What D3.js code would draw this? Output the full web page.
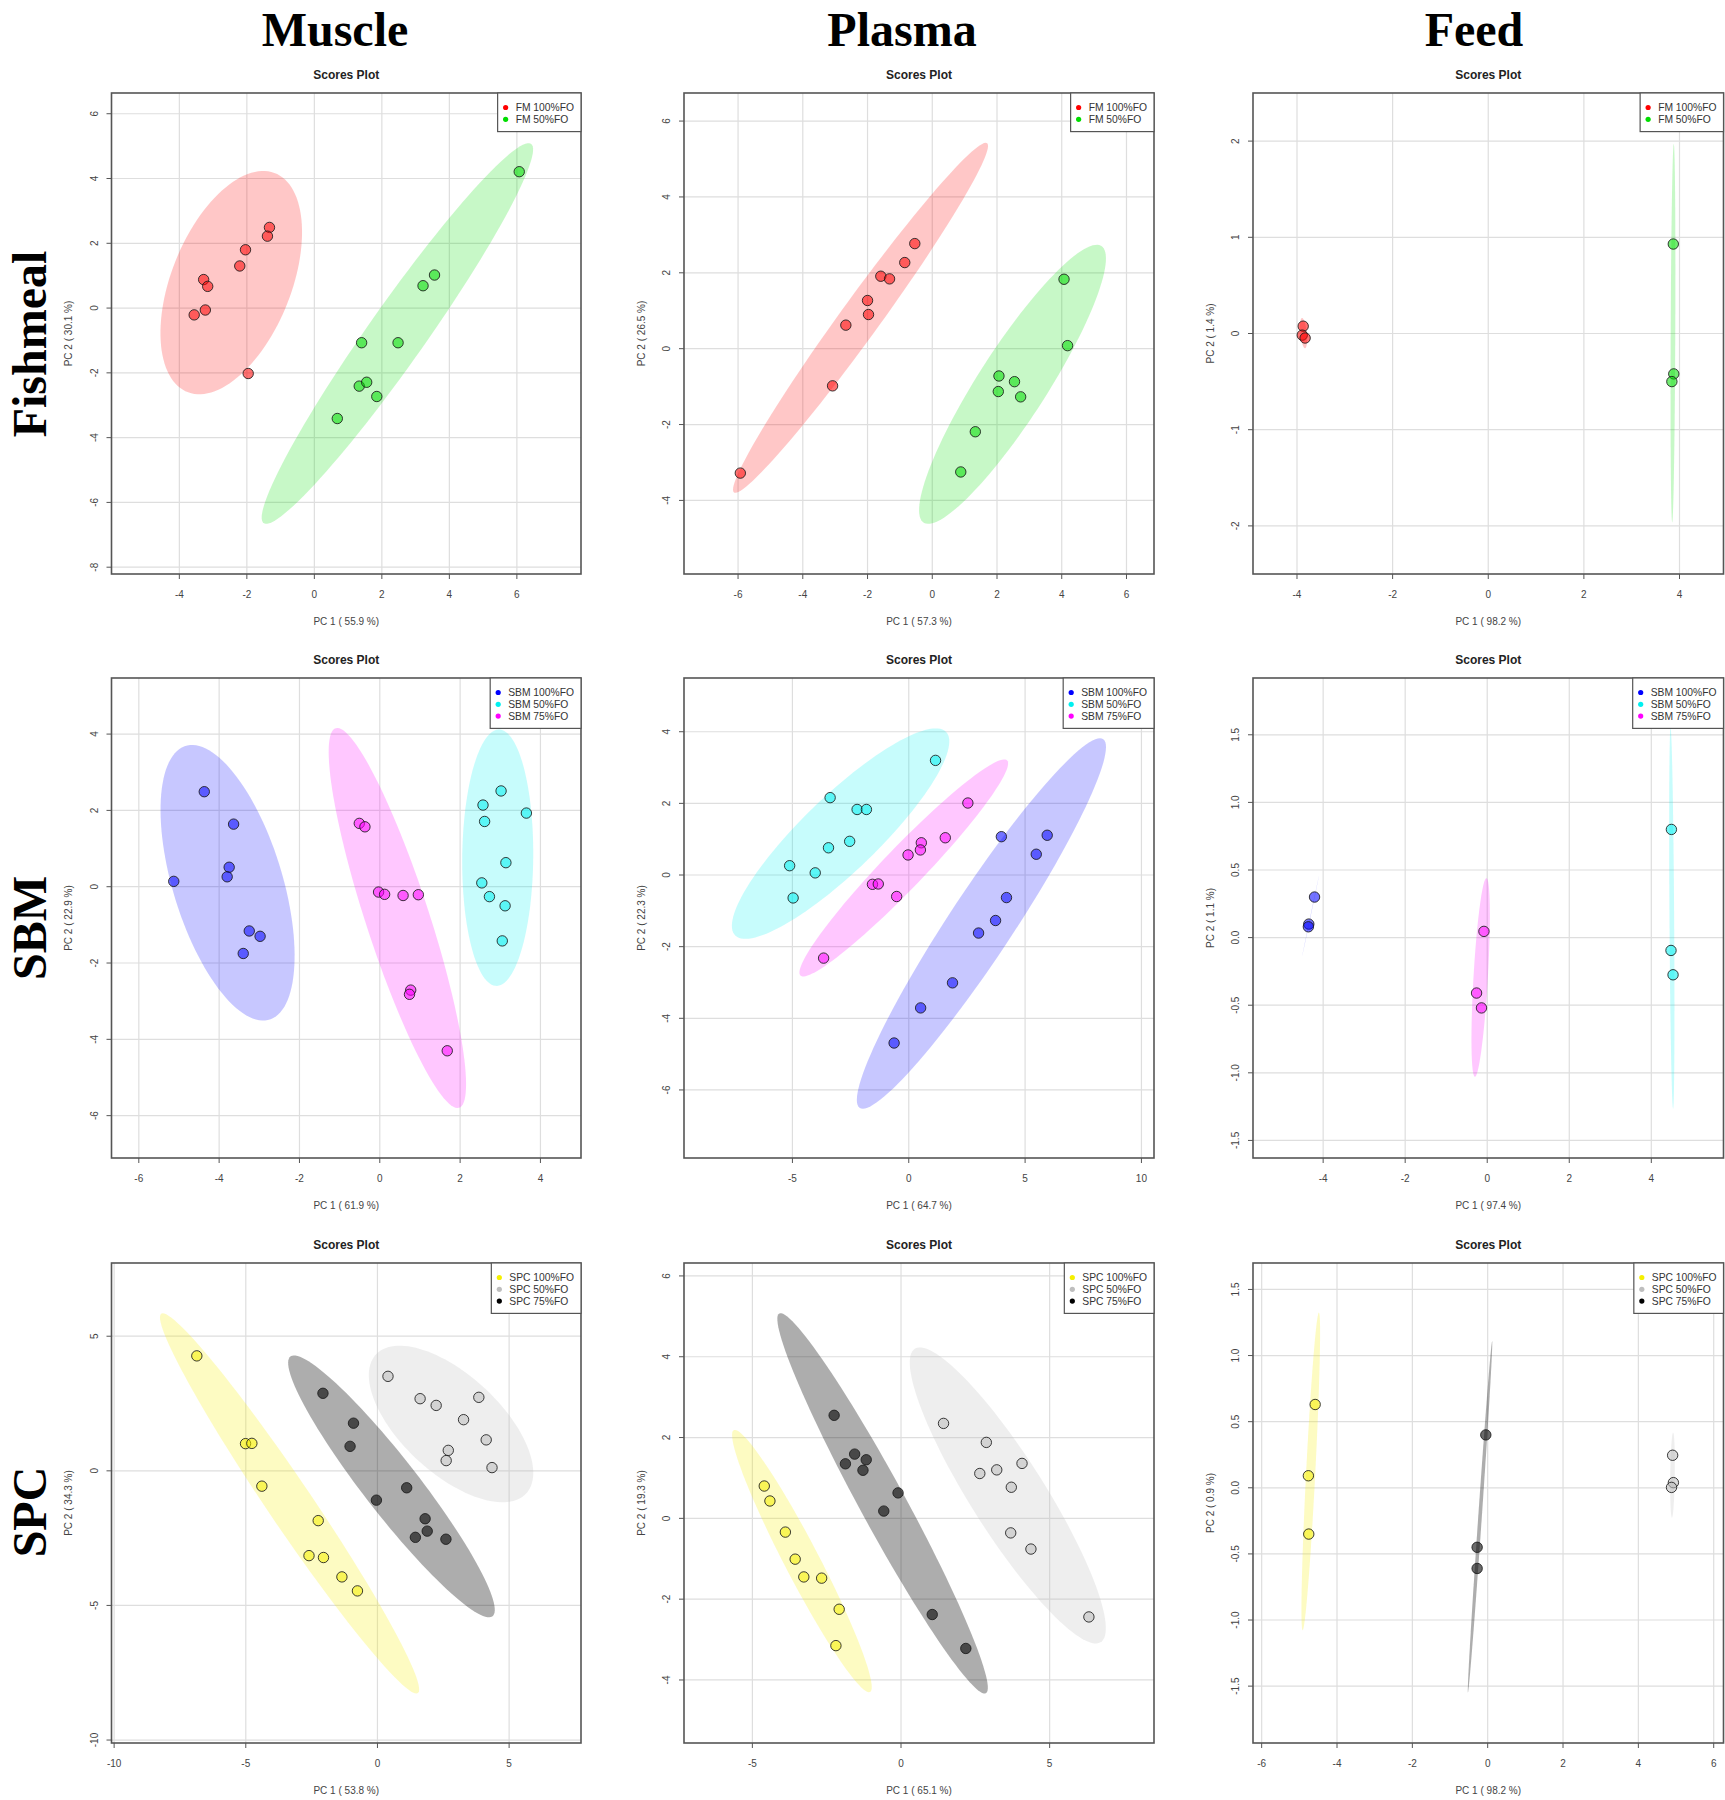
<!DOCTYPE html>
<html><head><meta charset="utf-8">
<script src="https://cdn.jsdelivr.net/npm/d3@7"></script>
<style>body{margin:0;background:#fff;} svg{display:block}</style>
</head><body>
<svg id="chart" width="1725" height="1800"></svg>
<script>
// ---------- DATA ----------
const columnTitles = ["Muscle", "Plasma", "Feed"];
const rowTitles = ["Fishmeal", "SBM", "SPC"];
const fmGroups = ["FM 100%FO", "FM 50%FO"];
const sbmGroups = ["SBM 100%FO", "SBM 50%FO", "SBM 75%FO"];
const spcGroups = ["SPC 100%FO", "SPC 50%FO", "SPC 75%FO"];

// Fishmeal
const muscleFM100 = [[-1.33,2.49],[-1.39,2.22],[-2.04,1.80],[-2.21,1.30],[-3.28,0.88],[-3.16,0.67],[-3.23,-0.06],[-3.56,-0.21],[-1.96,-2.02]];
const muscleFM50  = [[6.07,4.21],[3.56,1.02],[3.22,0.69],[1.40,-1.07],[2.48,-1.07],[1.33,-2.41],[1.55,-2.29],[1.85,-2.73],[0.68,-3.41]];
const plasmaFM100 = [[-0.54,2.77],[-0.85,2.27],[-1.59,1.91],[-1.32,1.84],[-2.00,1.27],[-1.97,0.90],[-2.67,0.62],[-3.08,-0.98],[-5.93,-3.28]];
const plasmaFM50  = [[4.07,1.83],[4.18,0.08],[2.06,-0.72],[2.54,-0.87],[2.04,-1.13],[2.73,-1.27],[1.33,-2.19],[0.88,-3.25]];
const feedFM100   = [[-3.87,0.076],[-3.89,-0.017],[-3.83,-0.047]];
const feedFM50    = [[3.87,0.93],[3.88,-0.42],[3.84,-0.50]];

// SBM
const muscleSBM100 = [[-4.37,2.49],[-3.64,1.64],[-3.75,0.51],[-3.80,0.26],[-5.13,0.14],[-3.25,-1.16],[-2.98,-1.30],[-3.40,-1.75]];
const muscleSBM50  = [[3.02,2.51],[2.57,2.14],[2.61,1.71],[3.65,1.93],[3.14,0.63],[2.54,0.10],[2.73,-0.26],[3.12,-0.50],[3.05,-1.42]];
const muscleSBM75  = [[-0.51,1.66],[-0.37,1.57],[-0.03,-0.14],[0.12,-0.20],[0.58,-0.23],[0.96,-0.21],[0.77,-2.71],[0.74,-2.82],[1.68,-4.30]];
const plasmaSBM100 = [[5.95,1.11],[3.98,1.07],[5.48,0.58],[4.20,-0.63],[3.73,-1.27],[3.00,-1.62],[1.88,-3.01],[0.51,-3.71],[-0.63,-4.69]];
const plasmaSBM50  = [[1.15,3.20],[-3.38,2.16],[-2.22,1.83],[-1.82,1.83],[-2.54,0.94],[-3.45,0.76],[-5.12,0.26],[-4.02,0.06],[-4.97,-0.64]];
const plasmaSBM75  = [[2.54,2.01],[1.57,1.04],[0.54,0.90],[0.50,0.70],[-0.03,0.56],[-1.56,-0.26],[-1.31,-0.25],[-0.52,-0.60],[-3.66,-2.32]];
const feedSBM100   = [[-4.21,0.30],[-4.35,0.10],[-4.36,0.08]];
const feedSBM50    = [[4.49,0.80],[4.48,-0.095],[4.53,-0.275]];
const feedSBM75    = [[-0.08,0.046],[-0.26,-0.41],[-0.14,-0.52]];

// SPC
const muscleSPC100 = [[-6.86,4.27],[-5.01,1.01],[-4.77,1.02],[-4.39,-0.57],[-2.25,-1.85],[-2.60,-3.15],[-2.05,-3.22],[-1.35,-3.94],[-0.76,-4.46]];
const muscleSPC50  = [[0.40,3.51],[1.62,2.68],[2.23,2.43],[3.85,2.73],[3.27,1.90],[4.13,1.15],[2.69,0.76],[2.61,0.38],[4.35,0.12]];
const muscleSPC75  = [[-2.07,2.88],[-0.91,1.77],[-1.04,0.91],[1.11,-0.63],[-0.04,-1.09],[1.81,-1.78],[1.89,-2.24],[1.44,-2.47],[2.60,-2.54]];
const plasmaSPC100 = [[-4.60,0.80],[-4.41,0.43],[-3.89,-0.34],[-3.56,-1.01],[-3.27,-1.45],[-2.67,-1.48],[-2.08,-2.25],[-2.19,-3.15]];
const plasmaSPC50  = [[1.43,2.35],[2.87,1.88],[2.65,1.11],[3.22,1.20],[4.07,1.36],[3.71,0.77],[3.69,-0.36],[4.37,-0.76],[6.32,-2.44]];
const plasmaSPC75  = [[-2.25,2.55],[-1.56,1.59],[-1.87,1.35],[-1.17,1.45],[-1.28,1.19],[-0.10,0.63],[-0.58,0.18],[1.05,-2.38],[2.18,-3.22]];
const feedSPC100   = [[-4.58,0.63],[-4.76,0.091],[-4.75,-0.35]];
const feedSPC50    = [[4.91,0.246],[4.93,0.039],[4.88,0.003]];
const feedSPC75    = [[-0.05,0.40],[-0.28,-0.45],[-0.28,-0.61]];

// Axis titles
const xTitles = ["PC 1 ( 55.9 %)","PC 1 ( 57.3 %)","PC 1 ( 98.2 %)","PC 1 ( 61.9 %)","PC 1 ( 64.7 %)","PC 1 ( 97.4 %)","PC 1 ( 53.8 %)","PC 1 ( 65.1 %)","PC 1 ( 98.2 %)"];
const yTitles = ["PC 2 ( 30.1 %)","PC 2 ( 26.5 %)","PC 2 ( 1.4 %)","PC 2 ( 22.9 %)","PC 2 ( 22.3 %)","PC 2 ( 1.1 %)","PC 2 ( 34.3 %)","PC 2 ( 19.3 %)","PC 2 ( 0.9 %)"];

// Tick values
const xTicksList = [
  [-4,-2,0,2,4,6], [-6,-4,-2,0,2,4,6], [-4,-2,0,2,4],
  [-6,-4,-2,0,2,4], [-5,0,5,10], [-4,-2,0,2,4],
  [-10,-5,0,5], [-5,0,5], [-6,-4,-2,0,2,4,6]
];
const yTicksList = [
  [-8,-6,-4,-2,0,2,4,6], [-4,-2,0,2,4,6], [-2,-1,0,1,2],
  [-6,-4,-2,0,2,4], [-6,-4,-2,0,2,4], [-1.5,-1.0,-0.5,0.0,0.5,1.0,1.5],
  [-10,-5,0,5], [-4,-2,0,2,4,6], [-1.5,-1.0,-0.5,0.0,0.5,1.0,1.5]
];
// Axis ranges (data units)
const xDomains = [[-6.01,7.9],[-7.67,6.85],[-4.92,4.92],[-6.68,5.01],[-9.66,10.54],[-5.71,5.76],[-10.10,7.73],[-7.30,8.51],[-6.23,6.26]];
const yDomains = [[-8.21,6.64],[-5.94,6.74],[-2.5,2.5],[-7.11,5.47],[-7.90,5.50],[-1.63,1.92],[-10.11,7.72],[-5.56,6.32],[-1.93,1.70]];

// ---------- STYLE ----------
const fmColors  = ["#FF0000", "#00DD00"];
const sbmColors = ["#0000FF", "#00F0F0", "#FF00FF"];
const spcColors = ["#F5F000", "#BEBEBE", "#000000"];
const fmEllOp  = [0.22, 0.22];
const sbmEllOp = [0.22, 0.22, 0.22];
const spcEllOp = [0.24, 0.26, 0.32];

const rowGroupData = [
  [[muscleFM100, muscleFM50], [plasmaFM100, plasmaFM50], [feedFM100, feedFM50]],
  [[muscleSBM100, muscleSBM50, muscleSBM75], [plasmaSBM100, plasmaSBM50, plasmaSBM75], [feedSBM100, feedSBM50, feedSBM75]],
  [[muscleSPC100, muscleSPC50, muscleSPC75], [plasmaSPC100, plasmaSPC50, plasmaSPC75], [feedSPC100, feedSPC50, feedSPC75]]
];
const rowGroups = [fmGroups, sbmGroups, spcGroups];
const rowColors = [fmColors, sbmColors, spcColors];
const rowEllOp = [fmEllOp, sbmEllOp, spcEllOp];
const decimalYTickPanels = [5, 8];

// Layout
const colX = [[111.5, 581], [684, 1154], [1253, 1723.5]];
const rowY = [[93, 574], [678, 1158], [1263, 1743]];
const colTitleX = [335, 902, 1474];
const rowTitleY = [344, 928, 1512];

const svg = d3.select("#chart");
const sans = "'Liberation Sans', Arial, sans-serif";
const serif = "'Liberation Serif', 'Times New Roman', serif";

// Column & row headings
svg.selectAll("text.coltitle").data(columnTitles).join("text")
  .attr("class", "coltitle")
  .attr("x", (d, i) => colTitleX[i]).attr("y", 46)
  .attr("text-anchor", "middle")
  .attr("font-family", serif).attr("font-weight", "bold").attr("font-size", 48)
  .attr("fill", "#000").text(d => d);

svg.selectAll("text.rowtitle").data(rowTitles).join("text")
  .attr("class", "rowtitle")
  .attr("transform", (d, i) => `translate(46,${rowTitleY[i]}) rotate(-90)`)
  .attr("text-anchor", "middle")
  .attr("font-family", serif).attr("font-weight", "bold").attr("font-size", 48)
  .attr("fill", "#000").text(d => d);

// 95% confidence ellipse (chi-square, 2 df), like ellipse::ellipse
const chiT = Math.sqrt(5.991464547);
function ellipsePoints(pts) {
  const n = pts.length;
  const mx = d3.mean(pts, p => p[0]), my = d3.mean(pts, p => p[1]);
  let sxx = 0, syy = 0, sxy = 0;
  pts.forEach(p => { sxx += (p[0]-mx)**2; syy += (p[1]-my)**2; sxy += (p[0]-mx)*(p[1]-my); });
  sxx /= (n-1); syy /= (n-1); sxy /= (n-1);
  const sx = Math.sqrt(sxx), sy = Math.sqrt(syy);
  let r = sxy / (sx * sy); r = Math.max(-1, Math.min(1, r));
  const dd = Math.acos(r);
  const out = [];
  for (let k = 0; k < 120; k++) {
    const a = 2 * Math.PI * k / 120;
    out.push([mx + chiT * sx * Math.cos(a + dd/2), my + chiT * sy * Math.cos(a - dd/2)]);
  }
  return out;
}

for (let r = 0; r < 3; r++) {
  for (let c = 0; c < 3; c++) {
    const idx = r * 3 + c;
    const [x0, x1] = colX[c], [y0, y1] = rowY[r];
    const xs = d3.scaleLinear().domain(xDomains[idx]).range([x0, x1]);
    const ys = d3.scaleLinear().domain(yDomains[idx]).range([y1, y0]);
    const g = svg.append("g");
    const fmtX = v => String(v);
    const fmtY = decimalYTickPanels.includes(idx) ? (v => v.toFixed(1)) : (v => String(v));

    // title
    g.append("text").attr("x", (x0 + x1) / 2).attr("y", y0 - 14)
      .attr("text-anchor", "middle").attr("font-family", sans)
      .attr("font-weight", "bold").attr("font-size", 12).attr("fill", "#222")
      .text("Scores Plot");

    // grid
    g.selectAll("line.gx").data(xTicksList[idx]).join("line")
      .attr("x1", d => xs(d)).attr("x2", d => xs(d)).attr("y1", y0).attr("y2", y1)
      .attr("stroke", "#dedede").attr("stroke-width", 1.2);
    g.selectAll("line.gy").data(yTicksList[idx]).join("line")
      .attr("y1", d => ys(d)).attr("y2", d => ys(d)).attr("x1", x0).attr("x2", x1)
      .attr("stroke", "#dedede").attr("stroke-width", 1.2);

    const clipId = "clip" + idx;
    g.append("clipPath").attr("id", clipId).append("rect")
      .attr("x", x0).attr("y", y0).attr("width", x1 - x0).attr("height", y1 - y0);
    const plot = g.append("g").attr("clip-path", `url(#${clipId})`);

    const groupsData = rowGroupData[r][c];
    const colors = rowColors[r];
    const line = d3.line().x(p => xs(p[0])).y(p => ys(p[1])).curve(d3.curveLinearClosed);

    groupsData.forEach((pts, gi) => {
      plot.append("path").attr("d", line(ellipsePoints(pts)))
        .attr("fill", colors[gi]).attr("fill-opacity", rowEllOp[r][gi]).attr("stroke", "none");
    });
    groupsData.forEach((pts, gi) => {
      plot.selectAll(null).data(pts).join("circle")
        .attr("cx", p => xs(p[0])).attr("cy", p => ys(p[1])).attr("r", 5.2)
        .attr("fill", colors[gi]).attr("fill-opacity", colors[gi] === "#000000" ? 0.58 : 0.55)
        .attr("stroke", "#1a1a1a").attr("stroke-opacity", 0.85).attr("stroke-width", 1);
    });

    // frame
    g.append("rect").attr("x", x0).attr("y", y0).attr("width", x1 - x0).attr("height", y1 - y0)
      .attr("fill", "none").attr("stroke", "#555").attr("stroke-width", 1.6);

    // x axis ticks & labels
    g.selectAll("line.tx").data(xTicksList[idx]).join("line")
      .attr("x1", d => xs(d)).attr("x2", d => xs(d)).attr("y1", y1).attr("y2", y1 + 5)
      .attr("stroke", "#555").attr("stroke-width", 1);
    g.selectAll("text.tx").data(xTicksList[idx]).join("text")
      .attr("x", d => xs(d)).attr("y", y1 + 24)
      .attr("text-anchor", "middle").attr("font-family", sans).attr("font-size", 10)
      .attr("fill", "#444").text(fmtX);
    g.append("text").attr("x", (x0 + x1) / 2).attr("y", y1 + 51)
      .attr("text-anchor", "middle").attr("font-family", sans).attr("font-size", 10)
      .attr("fill", "#444").text(xTitles[idx]);

    // y axis ticks & labels
    g.selectAll("line.ty").data(yTicksList[idx]).join("line")
      .attr("y1", d => ys(d)).attr("y2", d => ys(d)).attr("x1", x0).attr("x2", x0 - 5)
      .attr("stroke", "#555").attr("stroke-width", 1);
    g.selectAll("text.ty").data(yTicksList[idx]).join("text")
      .attr("transform", d => `translate(${x0 - 14},${ys(d)}) rotate(-90)`)
      .attr("text-anchor", "middle").attr("font-family", sans).attr("font-size", 10)
      .attr("fill", "#444").text(fmtY);
    g.append("text").attr("transform", `translate(${x0 - 39.5},${(y0 + y1) / 2}) rotate(-90)`)
      .attr("text-anchor", "middle").attr("font-family", sans).attr("font-size", 10)
      .attr("fill", "#444").text(yTitles[idx]);

    // legend
    const labels = rowGroups[r];
    const lg = g.append("g");
    const texts = lg.selectAll("text").data(labels).join("text")
      .attr("y", (d, i) => y0 + 14.5 + i * 11.8 + 3.6)
      .attr("font-family", sans).attr("font-size", 10.3).attr("fill", "#333").text(d => d);
    const tw = d3.max(texts.nodes(), n => n.getComputedTextLength());
    const bw = tw + 25, bh = labels.length * 11.8 + 15;
    const bx = x1 - bw;
    texts.attr("x", bx + 18);
    lg.selectAll("circle").data(labels).join("circle")
      .attr("cx", bx + 8).attr("cy", (d, i) => y0 + 14.5 + i * 11.8)
      .attr("r", 2.6).attr("fill", (d, i) => colors[i]);
    lg.insert("rect", ":first-child").attr("x", bx).attr("y", y0).attr("width", bw).attr("height", bh)
      .attr("fill", "#fff").attr("stroke", "#555").attr("stroke-width", 1.2);
  }
}
</script>
</body></html>
